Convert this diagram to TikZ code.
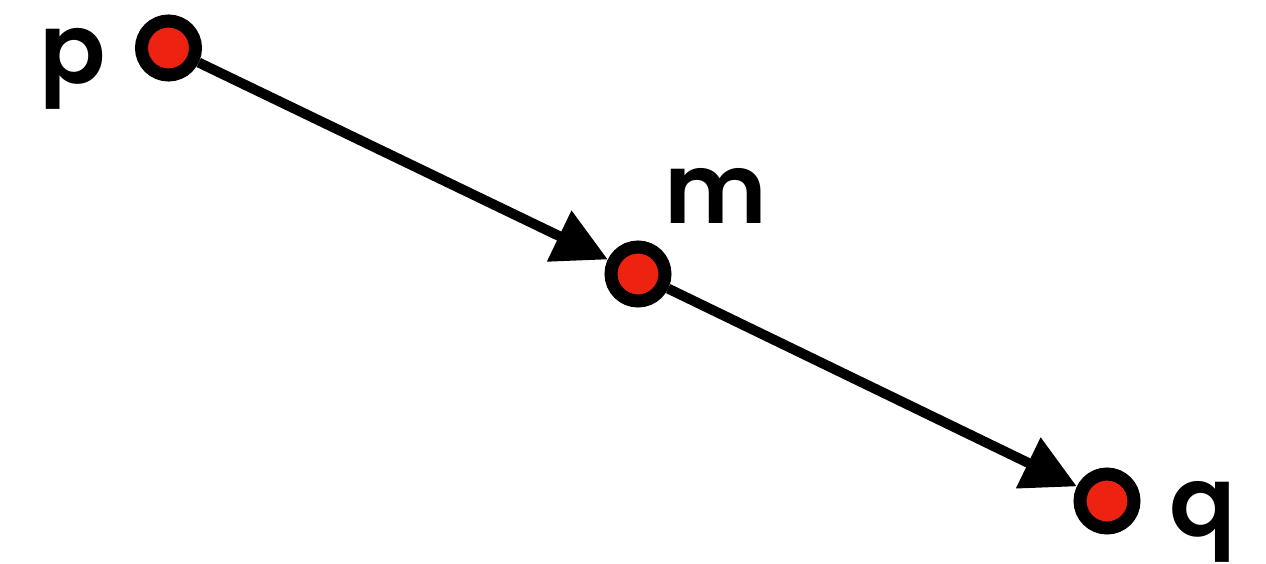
\documentclass[tikz,border=0pt]{standalone}
\usepackage{fontspec}
\setmainfont{Poppins}[BoldFont={Poppins SemiBold}]
\usetikzlibrary{arrows.meta,backgrounds}
\definecolor{dotred}{RGB}{238,34,17}
\tikzset{
  pt/.style={circle,draw=black,fill=dotred,line width=13pt,minimum size=54pt,inner sep=0pt},
  lbl/.style={inner sep=0pt,anchor=base,font=\fontsize{98}{98}\selectfont\bfseries},
  conn/.style={line width=10pt,-{Triangle[length=54pt,width=54pt]}}
}
\begin{document}
\begin{tikzpicture}[x=1pt,y=-1pt]
\useasboundingbox (0,0) rectangle (1266,563);
\node[pt] (p) at (168.5,48) {};
\node[pt] (m) at (638,274) {};
\node[pt] (q) at (1107,501) {};
\node[lbl] (lp) at (73,83) {p};
\node[lbl] (lm) at (715.5,223) {m};
\node[lbl] (lq) at (1202.5,536) {q};
\begin{scope}[on background layer]
\draw[conn] (p) -- (m);
\draw[conn] (m) -- (q);
\end{scope}
\end{tikzpicture}
\end{document}
